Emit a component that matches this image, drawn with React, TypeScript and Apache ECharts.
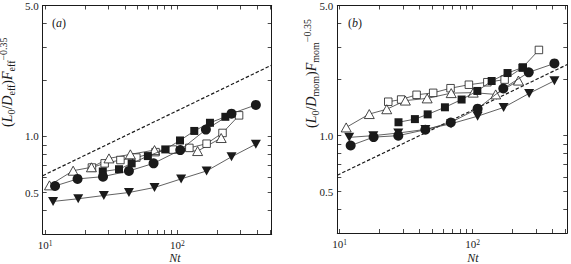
import React, { useEffect, useRef } from "react";
import * as echarts from "echarts";

// Axis ranges and tick positions (shared by both panels)
const ntRange = [9.6, 515];
const ratioRange = [0.3, 5];
const ntLabelTicks = [10, 100];
const ntTicks = [10, 20, 30, 40, 50, 60, 70, 80, 90, 100, 200, 300, 400, 500];
const ratioLabelTicks = [0.5, 1, 5];
const ratioTicks = [0.4, 0.5, 0.6, 0.7, 0.8, 0.9, 1, 2, 3, 4, 5];

// Panel (a): effective scaling
const effDownTriNt = [11.5, 17.8, 27.8, 43.0, 67.1, 106.6, 166, 256, 391];
const effDownTriVal = [0.448, 0.463, 0.482, 0.5, 0.532, 0.591, 0.652, 0.776, 0.907];
const effCircleNt = [11.9, 17.6, 27.4, 43, 66, 105, 164, 256, 391];
const effCircleVal = [0.542, 0.591, 0.608, 0.652, 0.716, 0.843, 1.085, 1.32, 1.47];
const effSquareNt = [27.3, 36.2, 45.1, 59.8, 80.9, 104.5, 134, 176, 230];
const effSquareVal = [0.648, 0.666, 0.716, 0.783, 0.85, 0.949, 1.067, 1.18, 1.27];
const effOpenTriNt = [10.8, 16.3, 22.4, 30.4, 44.1, 67.1, 142, 214];
const effOpenTriVal = [0.546, 0.654, 0.682, 0.761, 0.8, 0.843, 0.833, 0.978];
const effOpenSqNt = [22.6, 28.2, 37.1, 48.9, 68.3, 92.2, 123, 166, 219, 292];
const effOpenSqVal = [0.68, 0.716, 0.746, 0.769, 0.822, 0.848, 0.866, 0.912, 1.041, 1.293];
const effRefNt = [9.6, 515];
const effRefVal = [0.615, 2.4];

// Panel (b): momentum scaling
const momOpenTriNt = [11.2, 16.7, 22.6, 31.2, 45.5, 69, 101, 149, 221];
const momOpenTriVal = [1.107, 1.306, 1.386, 1.543, 1.585, 1.692, 1.702, 1.665, 1.976];
const momOpenSqNt = [23.2, 29, 37.9, 50.5, 68.2, 93.7, 129, 174, 237, 315];
const momOpenSqVal = [1.521, 1.563, 1.657, 1.698, 1.798, 1.877, 1.936, 2.0, 2.317, 2.886];
const momSquareNt = [27.7, 36.8, 45.9, 61.9, 82.6, 108.5, 139, 183, 239];
const momSquareVal = [1.18, 1.227, 1.301, 1.42, 1.563, 1.738, 1.965, 2.169, 2.325];
const momDownTriNt = [11.8, 17.9, 27.6, 44.1, 68.8, 109, 171, 266, 412];
const momDownTriVal = [0.979, 1.0, 1.033, 1.08, 1.158, 1.272, 1.417, 1.686, 1.971];
const momCircleNt = [12.1, 18, 27.6, 44.1, 68.5, 109, 170, 264, 412];
const momCircleVal = [0.885, 0.982, 1.0, 1.076, 1.177, 1.396, 1.791, 2.188, 2.442];
const momRefNt = [9.6, 515];
const momRefVal = [0.613, 2.41];

const SERIF = "Liberation Serif";
const INK = "#1a1a1a";

type MarkerKind = "circle" | "square" | "downTri" | "openTri" | "openSq";

const markerLook: Record<MarkerKind, { symbol: string; size: number | number[]; rotate: number; open: boolean }> = {
  circle: { symbol: "circle", size: 10, rotate: 0, open: false },
  square: { symbol: "rect", size: 8, rotate: 0, open: false },
  downTri: { symbol: "triangle", size: [10, 9], rotate: 180, open: false },
  openTri: { symbol: "triangle", size: [10, 9], rotate: 0, open: true },
  openSq: { symbol: "rect", size: 7.5, rotate: 0, open: true },
};

function zip(xs: number[], ys: number[]) {
  return xs.map((x, i) => [x, ys[i]]);
}

function markerSeries(panel: number, kind: MarkerKind, xs: number[], ys: number[]) {
  const look = markerLook[kind];
  return {
    type: "line",
    xAxisIndex: panel * 2,
    yAxisIndex: panel * 2,
    data: zip(xs, ys),
    symbol: look.symbol,
    symbolSize: look.size,
    symbolRotate: look.rotate,
    showAllSymbol: true,
    silent: true,
    z: look.open ? 3 : 4,
    lineStyle: { color: "#3a3a3a", width: 0.8 },
    itemStyle: look.open
      ? { color: "#ffffff", borderColor: INK, borderWidth: 0.8 }
      : { color: INK, borderColor: INK, borderWidth: 0 },
    emphasis: { disabled: true },
  };
}

function refSeries(panel: number, xs: number[], ys: number[]) {
  return {
    type: "line",
    xAxisIndex: panel * 2,
    yAxisIndex: panel * 2,
    data: zip(xs, ys),
    showSymbol: false,
    silent: true,
    z: 2,
    lineStyle: { color: INK, width: 1.2, type: [3.5, 2] },
    emphasis: { disabled: true },
  };
}

const tickStyle = { show: true, inside: true, length: 4, lineStyle: { color: INK, width: 0.8 } };
const lineStyle = { show: true, lineStyle: { color: INK, width: 1 } };

function xAxes(grid: number) {
  return [
    {
      type: "log",
      gridIndex: grid,
      position: "bottom",
      min: ntRange[0],
      max: ntRange[1],
      axisLine: lineStyle,
      axisTick: { ...tickStyle, customValues: ntTicks },
      splitLine: { show: false },
      axisLabel: {
        customValues: ntLabelTicks,
        margin: 5,
        color: INK,
        fontFamily: SERIF,
        fontSize: 11,
        lineHeight: 12,
        formatter: (v: number) => "10{sup|" + Math.round(Math.log10(v)) + "}",
        rich: {
          sup: { fontSize: 7.5, fontFamily: SERIF, color: INK, verticalAlign: "top", lineHeight: 8 },
        },
      },
    },
    {
      type: "log",
      gridIndex: grid,
      position: "top",
      min: ntRange[0],
      max: ntRange[1],
      axisLine: lineStyle,
      axisTick: { ...tickStyle, customValues: ntTicks },
      splitLine: { show: false },
      axisLabel: { show: false },
    },
  ];
}

function yAxes(grid: number) {
  return [
    {
      type: "log",
      gridIndex: grid,
      position: "left",
      min: ratioRange[0],
      max: ratioRange[1],
      axisLine: lineStyle,
      axisTick: { ...tickStyle, customValues: ratioTicks },
      splitLine: { show: false },
      axisLabel: {
        customValues: ratioLabelTicks,
        margin: 4,
        color: INK,
        fontFamily: SERIF,
        fontSize: 11,
        formatter: (v: number) => v.toFixed(1),
      },
    },
    {
      type: "log",
      gridIndex: grid,
      position: "right",
      min: ratioRange[0],
      max: ratioRange[1],
      axisLine: lineStyle,
      axisTick: { ...tickStyle, customValues: ratioTicks },
      splitLine: { show: false },
      axisLabel: { show: false },
    },
  ];
}

const nameRich = {
  i: { fontStyle: "italic", fontSize: 14, fontFamily: SERIF, color: INK, lineHeight: 18 },
  n: { fontSize: 14, fontFamily: SERIF, color: INK, lineHeight: 18 },
  sub: { fontSize: 10, fontFamily: SERIF, color: INK, lineHeight: 10, verticalAlign: "bottom" },
  sup: { fontSize: 10, fontFamily: SERIF, color: INK, lineHeight: 10, verticalAlign: "top" },
};

function yName(x: number, y: number, sub: string) {
  return {
    type: "text",
    x,
    y,
    rotation: Math.PI / 2,
    silent: true,
    style: {
      text: `{n|(}{i|L}{sub|0}{n|/}{i|D}{sub|${sub}}{n|)}{i|F}{sub|${sub}}{sup|\u22120.35}`,
      rich: nameRich,
      align: "left",
      verticalAlign: "middle",
      fill: INK,
      fontSize: 14,
      fontFamily: SERIF,
    },
  };
}

function plainLabel(x: number, y: number, text: string, rich: any) {
  return {
    type: "text",
    x,
    y,
    silent: true,
    style: { text, rich, align: "center", verticalAlign: "middle", fill: INK, fontSize: 12, fontFamily: SERIF },
  };
}

const labelRich = {
  i: { fontStyle: "italic", fontSize: 12, fontFamily: SERIF, color: INK },
  n: { fontSize: 12, fontFamily: SERIF, color: INK },
};

export default function App() {
  const ref = useRef<HTMLDivElement>(null);

  useEffect(() => {
    if (!ref.current) return;
    const chart = echarts.init(ref.current, undefined, { renderer: "svg" });
    chart.setOption({
      animation: false,
      backgroundColor: "#ffffff",
      textStyle: { fontFamily: SERIF },
      grid: [
        { left: 42.7, top: 5, width: 229, height: 229 },
        { left: 337.3, top: 5, width: 230, height: 228 },
      ],
      xAxis: [...xAxes(0), ...xAxes(1)],
      yAxis: [...yAxes(0), ...yAxes(1)],
      series: [
        refSeries(0, effRefNt, effRefVal),
        markerSeries(0, "openSq", effOpenSqNt, effOpenSqVal),
        markerSeries(0, "openTri", effOpenTriNt, effOpenTriVal),
        markerSeries(0, "square", effSquareNt, effSquareVal),
        markerSeries(0, "circle", effCircleNt, effCircleVal),
        markerSeries(0, "downTri", effDownTriNt, effDownTriVal),
        refSeries(1, momRefNt, momRefVal),
        markerSeries(1, "openSq", momOpenSqNt, momOpenSqVal),
        markerSeries(1, "openTri", momOpenTriNt, momOpenTriVal),
        markerSeries(1, "square", momSquareNt, momSquareVal),
        markerSeries(1, "circle", momCircleNt, momCircleVal),
        markerSeries(1, "downTri", momDownTriNt, momDownTriVal),
      ],
      graphic: [
        yName(7, 127, "eff"),
        yName(311, 128, "mom"),
        plainLabel(59, 23, "{n|(}{i|a}{n|)}", labelRich),
        plainLabel(355, 23, "{n|(}{i|b}{n|)}", labelRich),
        plainLabel(175, 258, "{i|Nt}", labelRich),
        plainLabel(473, 258, "{i|Nt}", labelRich),
      ],
    });
    return () => chart.dispose();
  }, []);

  return (
    <div
      ref={ref}
      style={{ position: "absolute", left: 0, top: 0, width: 571, height: 264, background: "#fff" }}
    />
  );
}
